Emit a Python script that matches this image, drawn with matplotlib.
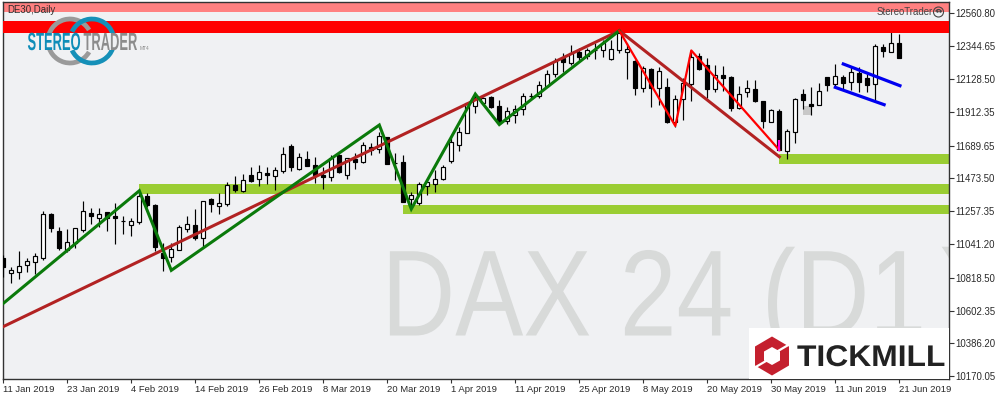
import matplotlib
matplotlib.use("Agg")
import matplotlib.pyplot as plt
import numpy as np
from matplotlib.patches import Rectangle, Polygon, Arc, Circle
from matplotlib.patheffects import AbstractPathEffect
from matplotlib.transforms import Affine2D

opens = [10947,10852,10859,10901,10921,10951,11239,11127,11002,11050,11134,11244,11215,11250,11226,11191,11169,11188,11358,11298,
 10984,10958,11000,11142,11167,11079,11338,11294,11303,11430,11392,11496,11468,11507,11491,11522,11687,11537,11601,11562,
 11498,11485,11628,11498,11599,11584,11678,11665,11744,11577,11582,11340,11311,11425,11439,11468,11590,11695,11774,11952,
 11972,12008,11950,11850,11891,11929,12014,12016,12084,12159,12264,12235,12304,12280,12322,12319,12262,12319,12304,12247,
 12071,12192,12067,12073,11847,11994,12093,12280,12220,12060,12154,12141,11935,12041,12060,11983,11847,11917,11656,11781,
 12027,11961,11959,12139,12097,12139,12106,12168,12135,12093,12337,12308,12365]
closes = [10892,10870,10897,10928,10960,11239,11149,11017,11053,11145,11257,11228,11237,11211,11215,11191,11191,11358,11298,11024,
 10949,11007,11151,11171,11079,11323,11307,11310,11428,11397,11461,11458,11514,11498,11527,11632,11549,11612,11555,11496,
 11483,11606,11516,11606,11582,11692,11661,11753,11568,11577,11318,11362,11435,11448,11468,11547,11711,11779,11972,12001,
 12001,11944,11847,11915,11929,12014,12014,12089,12159,12247,12242,12297,12273,12317,12322,12363,12324,12429,12324,12071,
 12199,12067,12183,11847,11994,12100,12275,12196,12060,12154,12137,11939,12027,12067,11983,11854,11922,11660,11784,11994,
 11990,11952,12047,12091,12146,12104,12172,12108,12089,12343,12315,12365,12268]
highs = [10969,10892,10995,10947,10984,11259,11244,11151,11140,11147,11325,11277,11277,11250,11310,11226,11211,11386,11375,11305,
 11046,11046,11167,11226,11272,11323,11342,11375,11448,11489,11502,11547,11562,11547,11547,11680,11700,11639,11654,11616,
 11549,11628,11634,11606,11639,11715,11709,11781,11748,11639,11628,11386,11448,11463,11529,11562,11740,11810,11972,12029,
 12010,12016,11990,11942,11957,12034,12034,12115,12187,12264,12297,12352,12330,12330,12367,12385,12385,12451,12365,12253,
 12214,12199,12205,12133,12023,12135,12319,12301,12264,12220,12214,12148,12082,12122,12122,11983,11931,11931,11797,12001,
 12062,12073,12100,12139,12227,12154,12216,12209,12161,12359,12357,12436,12425]
lows = [10826,10787,10813,10859,10844,10936,11122,11002,10991,11017,11122,11171,11155,11127,11041,11107,11094,11173,11287,10997,
 10866,10925,11000,11122,11068,11024,11254,11239,11294,11384,11386,11452,11423,11437,11397,11507,11524,11529,11555,11445,
 11404,11458,11507,11470,11535,11573,11628,11639,11568,11463,11318,11287,11298,11364,11384,11463,11577,11654,11771,11906,
 11957,11937,11836,11832,11840,11891,11994,12001,12077,12143,12176,12220,12253,12258,12258,12275,12253,12301,12128,12023,
 12044,11946,11957,11836,11814,11858,11983,12187,12003,12044,12051,11919,11931,12012,11979,11803,11843,11660,11601,11709,
 11929,11891,11955,12051,12073,12060,12056,12044,12044,11979,12275,12308,12268]

price_ticks = [12560.80,12344.65,12128.50,11912.35,11689.65,11473.50,11257.35,11041.20,10818.50,10602.35,10386.20,10170.05]
date_idx = [0,8,16,24,32,40,48,56,64,72,80,88,96,104,112]
date_labels = ["11 Jan 2019","23 Jan 2019","4 Feb 2019","14 Feb 2019","26 Feb 2019","8 Mar 2019","20 Mar 2019","1 Apr 2019",
               "11 Apr 2019","25 Apr 2019","8 May 2019","20 May 2019","30 May 2019","11 Jun 2019","21 Jun 2019"]

green_x = [-0.1,17,21,47,51,59,62,77]
green_y = [10646,11392,10868,11825,11272,12029,11828,12446]
brown_x = [-0.1,77,97]
brown_y = [10495,12446,11616]
red_x = [77,84,86,97]
red_y = [12446,11819,12316,11660]
magenta_x = [97,97]
magenta_y = [11726,11654]
blue_up_x = [105,112.08]
blue_up_y = [12227,12084]
blue_lo_x = [104,110.1]
blue_lo_y = [12073,11959]
zones = [(17,11371,11437),(50,11239,11298),(97,11568,11634)]
gray_box = (100,101,11891,11950)
red_band = (12433,12510)
pink_band = (12569,12635)

BG = "#F0F1F3"
FRAME = "#333333"
TXT = "#2A2A2A"
XMIN, XMAX = -0.1, 118.275
YMIN, YMAX = 10152.3, 12635.2


class VStretch(AbstractPathEffect):
    """Draws a text scaled about its anchor (display pixels), taller than its font size."""
    def __init__(self, sy, y0, sx=1.0, x0=0.0):
        super().__init__()
        self.sy, self.y0, self.sx, self.x0 = sy, y0, sx, x0
    def draw_path(self, renderer, gc, tpath, affine, rgbFace=None):
        t = affine + (Affine2D().translate(-self.x0, -self.y0)
                      .scale(self.sx, self.sy).translate(self.x0, self.y0))
        renderer.draw_path(gc, tpath, t, rgbFace)


fig = plt.figure(figsize=(10,4), dpi=100, facecolor="white")
ax = fig.add_axes([2.5/1000, 21/400, 947/1000, 377/400], facecolor=BG)
ax.set_xlim(XMIN, XMAX)
ax.set_ylim(YMIN, YMAX)
deco = fig.add_axes([0,0,1,1], facecolor="none", zorder=5)
deco.set_xlim(0,1000); deco.set_ylim(400,0); deco.axis("off")

for s in ax.spines.values():
    s.set_color(FRAME); s.set_linewidth(1)

TF = "Liberation Sans"
ax.yaxis.tick_right()
ax.set_yticks(price_ticks)
ax.set_yticklabels([f"{t:.2f}" for t in price_ticks], fontsize=6.9, family=TF, color=TXT)
ax.set_xticks(date_idx)
ax.set_xticklabels(date_labels, fontsize=6.8, family=TF, color=TXT, ha="left")
ax.tick_params(axis="y", length=3.5, width=0.8, color=FRAME, pad=1)
ax.tick_params(axis="x", length=3, width=0.8, color=FRAME, pad=1.5)

# watermark
ax.text(381.5, 335.5, "DAX 24 (D1", transform=deco.transData, fontsize=73.5, family=TF,
        color="#D8DAD9", va="baseline", ha="left", zorder=1, clip_on=True,
        path_effects=[VStretch(1.2, 400-335.5)])
ax.text(941, 335.5, ")", transform=deco.transData, fontsize=18, family=TF,
        color="#D8DAD9", va="baseline", ha="left", zorder=1, clip_on=True,
        path_effects=[VStretch(1.2*73.5/18, 400-335.5, 73.5/18, 941)])

# zones
for start, lo, hi in zones:
    ax.add_patch(Rectangle((start-0.05, lo), XMAX-start, hi-lo, fc="#9ACD32", ec="none", zorder=2))
ax.add_patch(Rectangle((gray_box[0], gray_box[2]), gray_box[1]-gray_box[0], gray_box[3]-gray_box[2], fc="#C8C8C8", ec="none", zorder=2))
ax.axhspan(pink_band[0], pink_band[1], fc="#FF8080", ec="none", zorder=2)

# candles
o, c, h, l = map(np.array, (opens, closes, highs, lows))
idx = np.arange(len(o))
ax.vlines(idx, l, h, color="black", lw=0.85, zorder=3)
for i in idx:
    up = c[i] >= o[i]
    bot, top = min(o[i],c[i]), max(o[i],c[i])
    ax.add_patch(Rectangle((i-0.27, bot), 0.54, top-bot, fc="white" if up else "black", ec="black", lw=0.85, zorder=3.5))
ax.axhspan(red_band[0], red_band[1], fc="#FF0000", ec="none", zorder=4)

# analysis lines
ax.plot(brown_x, brown_y, color="#B22222", lw=2.2, zorder=5, solid_joinstyle="miter")
ax.plot(green_x, green_y, color="#0A7A0A", lw=2.2, zorder=6, solid_joinstyle="miter")
ax.plot(red_x, red_y, color="#FF0000", lw=1.6, zorder=7)
ax.plot(magenta_x, magenta_y, color="#FF00E0", lw=1.6, zorder=7, solid_capstyle="butt")
ax.plot(blue_up_x, blue_up_y, color="#0000F0", lw=2.3, zorder=7)
ax.plot(blue_lo_x, blue_lo_y, color="#0000F0", lw=2.3, zorder=7)

# header texts
deco.text(7.5, 10.3, "DE30,Daily", fontsize=6.9, family=TF, color=TXT, va="center", ha="left")
deco.text(877, 12, "StereoTrader", fontsize=6.9, family=TF, color="#444444", va="center", ha="left")
deco.add_patch(Circle((938.5,12), 5, fc="none", ec="#444444", lw=0.8))
deco.plot([936.6,940.4],[10.5,10.5], ls="none", marker=".", ms=1.6, color="#444444")
deco.add_patch(Arc((938.5,12.5), 6, 6, theta1=200, theta2=340, ec="#444444", lw=0.8))

# StereoTrader logo
deco.add_patch(Arc((70,41), 44, 44, theta1=30, theta2=330, ec="#9A9A9A", lw=3.4, zorder=2))
deco.add_patch(Arc((92,41), 44, 44, theta1=-155, theta2=155, ec="#1590B8", lw=3.4, zorder=3))
deco.add_patch(Rectangle((26,32.7), 114, 17.5, fc=BG, ec="none", zorder=4))
deco.text(27.5, 50, "STEREO", fontsize=9.3, family=TF, color="#0F8DB8", va="baseline", ha="left", fontweight="bold",
          zorder=6, path_effects=[VStretch(1.92, 350)])
deco.text(83.5, 50, "TRADER", fontsize=9.3, family=TF, color="#8C8C8C", va="baseline", ha="left", fontweight="bold",
          zorder=6, path_effects=[VStretch(1.92, 350)])
deco.text(140, 49.5, "MT4", fontsize=3.5, family=TF, color="#8C8C8C", va="baseline", ha="left", zorder=6)

# Tickmill logo
deco.add_patch(Rectangle((749,328), 200, 51, fc="white", ec="none", zorder=6))
R = "#C4202E"
hx, hy = 772, 356
deco.add_patch(Polygon([(hx,hy-19.5),(hx+17,hy-9.5),(hx+17,hy+9.5),(hx,hy+19.5),(hx-17,hy+9.5),(hx-17,hy-9.5)], fc=R, ec="none", zorder=7))
deco.add_patch(Polygon([(hx,hy-9),(hx+8,hy-4.5),(hx+8,hy+4.5),(hx,hy+9),(hx-8,hy+4.5),(hx-8,hy-4.5)], fc="white", ec="none", zorder=8))
deco.plot([hx+6,hx+18],[hy-5,hy-12], color="white", lw=1.6, zorder=8)
deco.plot([hx-18,hx-6],[hy+12,hy+5], color="white", lw=1.6, zorder=8)
deco.text(797, 366, "TICKMILL", fontsize=22.9, family=TF, fontweight="bold", color="#222222", va="baseline", ha="left",
          zorder=8, path_effects=[VStretch(0.94, 34)])

fig.savefig("out.png", dpi=100, facecolor="white")
